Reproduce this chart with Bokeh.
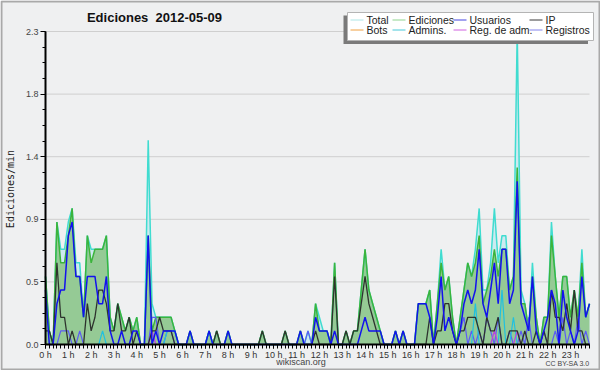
from bokeh.plotting import figure
from bokeh.models import Range1d, FixedTicker, CustomJSTickFormatter
from bokeh.core.properties import value
from bokeh.embed import file_html
from bokeh.resources import INLINE

# ---- data: edits per minute, one value per 10-minute bin (00:00 .. 23:50) ----
total = [
    0.5, 0.1, 0.0, 0.9, 0.7, 0.7,   0.9, 1.0, 0.6, 0.6, 0.2, 0.8,
    0.7, 0.7, 0.7, 0.7, 0.8, 0.2,   0.1, 0.3, 0.2, 0.1, 0.2, 0.1,
    0.2, 0.0, 0.0, 1.5, 0.3, 0.2,   0.2, 0.2, 0.2, 0.2, 0.1, 0.0,
    0.0, 0.0, 0.1, 0.0, 0.0, 0.0,   0.0, 0.1, 0.0, 0.1, 0.0, 0.0,
    0.1, 0.0, 0.0, 0.0, 0.0, 0.0,   0.0, 0.0, 0.0, 0.1, 0.0, 0.0,
    0.0, 0.0, 0.0, 0.1, 0.0, 0.0,   0.0, 0.1, 0.0, 0.1, 0.0, 0.3,
    0.2, 0.1, 0.1, 0.0, 0.6, 0.0,   0.0, 0.1, 0.0, 0.1, 0.1, 0.4,
    0.7, 0.4, 0.3, 0.2, 0.1, 0.0,   0.0, 0.0, 0.1, 0.0, 0.1, 0.0,
    0.0, 0.0, 0.3, 0.3, 0.3, 0.4,   0.0, 0.3, 0.7, 0.4, 0.5, 0.2,
    0.0, 0.2, 0.4, 0.6, 0.5, 0.7,   1.0, 0.4, 0.4, 0.6, 1.0, 0.6,
    0.8, 0.8, 0.4, 0.5, 2.3, 0.4,   0.3, 0.1, 0.6, 0.2, 0.0, 0.2,
    0.2, 0.9, 0.5, 0.2, 0.5, 0.5,   0.2, 0.4, 0.2, 0.7, 0.2, 0.3,
]
ediciones = [
    0.5, 0.1, 0.0, 0.9, 0.6, 0.6,   0.8, 1.0, 0.5, 0.5, 0.2, 0.8,
    0.6, 0.7, 0.7, 0.7, 0.8, 0.2,   0.1, 0.3, 0.2, 0.1, 0.2, 0.1,
    0.2, 0.0, 0.0, 0.8, 0.1, 0.2,   0.2, 0.2, 0.2, 0.2, 0.1, 0.0,
    0.0, 0.0, 0.1, 0.0, 0.0, 0.0,   0.0, 0.1, 0.0, 0.1, 0.0, 0.0,
    0.1, 0.0, 0.0, 0.0, 0.0, 0.0,   0.0, 0.0, 0.0, 0.1, 0.0, 0.0,
    0.0, 0.0, 0.0, 0.1, 0.0, 0.0,   0.0, 0.1, 0.0, 0.0, 0.0, 0.3,
    0.1, 0.1, 0.1, 0.0, 0.6, 0.0,   0.0, 0.1, 0.0, 0.1, 0.1, 0.4,
    0.7, 0.4, 0.3, 0.2, 0.1, 0.0,   0.0, 0.0, 0.1, 0.0, 0.1, 0.0,
    0.0, 0.0, 0.3, 0.3, 0.3, 0.4,   0.0, 0.3, 0.6, 0.4, 0.5, 0.2,
    0.0, 0.2, 0.4, 0.6, 0.5, 0.6,   0.8, 0.3, 0.4, 0.5, 0.7, 0.5,
    0.7, 0.7, 0.4, 0.5, 1.3, 0.3,   0.3, 0.1, 0.5, 0.2, 0.0, 0.2,
    0.2, 0.8, 0.5, 0.2, 0.5, 0.5,   0.2, 0.4, 0.2, 0.6, 0.2, 0.3,
]
usuarios = [
    0.4, 0.0, 0.0, 0.3, 0.4, 0.4,   0.8, 0.9, 0.5, 0.5, 0.2, 0.5,
    0.5, 0.5, 0.3, 0.3, 0.5, 0.1,   0.0, 0.0, 0.1, 0.0, 0.0, 0.1,
    0.1, 0.0, 0.0, 0.8, 0.0, 0.1,   0.0, 0.1, 0.1, 0.1, 0.1, 0.0,
    0.0, 0.0, 0.1, 0.0, 0.0, 0.0,   0.0, 0.1, 0.0, 0.0, 0.0, 0.0,
    0.1, 0.0, 0.0, 0.0, 0.0, 0.0,   0.0, 0.0, 0.0, 0.0, 0.0, 0.0,
    0.0, 0.0, 0.0, 0.0, 0.0, 0.0,   0.0, 0.1, 0.0, 0.0, 0.0, 0.2,
    0.1, 0.1, 0.1, 0.0, 0.1, 0.0,   0.0, 0.0, 0.0, 0.0, 0.0, 0.1,
    0.2, 0.1, 0.1, 0.1, 0.1, 0.0,   0.0, 0.0, 0.1, 0.0, 0.1, 0.0,
    0.0, 0.0, 0.3, 0.3, 0.3, 0.2,   0.0, 0.2, 0.5, 0.1, 0.2, 0.1,
    0.0, 0.1, 0.3, 0.4, 0.3, 0.4,   0.7, 0.3, 0.2, 0.4, 0.6, 0.3,
    0.7, 0.7, 0.3, 0.4, 1.2, 0.3,   0.2, 0.1, 0.5, 0.1, 0.0, 0.1,
    0.2, 0.4, 0.3, 0.0, 0.4, 0.2,   0.1, 0.0, 0.1, 0.5, 0.2, 0.3,
]
ip = [
    0.1, 0.1, 0.0, 0.6, 0.2, 0.2,   0.0, 0.1, 0.0, 0.0, 0.0, 0.3,
    0.1, 0.2, 0.4, 0.4, 0.3, 0.1,   0.1, 0.3, 0.1, 0.1, 0.2, 0.0,
    0.1, 0.0, 0.0, 0.0, 0.1, 0.1,   0.2, 0.1, 0.1, 0.1, 0.0, 0.0,
    0.0, 0.0, 0.0, 0.0, 0.0, 0.0,   0.0, 0.0, 0.0, 0.1, 0.0, 0.0,
    0.0, 0.0, 0.0, 0.0, 0.0, 0.0,   0.0, 0.0, 0.0, 0.1, 0.0, 0.0,
    0.0, 0.0, 0.0, 0.1, 0.0, 0.0,   0.0, 0.0, 0.0, 0.0, 0.0, 0.1,
    0.0, 0.0, 0.0, 0.0, 0.5, 0.0,   0.0, 0.1, 0.0, 0.1, 0.1, 0.3,
    0.5, 0.3, 0.2, 0.1, 0.0, 0.0,   0.0, 0.0, 0.0, 0.0, 0.0, 0.0,
    0.0, 0.0, 0.0, 0.0, 0.0, 0.2,   0.0, 0.1, 0.1, 0.3, 0.3, 0.1,
    0.0, 0.1, 0.1, 0.2, 0.2, 0.2,   0.1, 0.0, 0.2, 0.1, 0.1, 0.2,
    0.0, 0.0, 0.1, 0.1, 0.1, 0.0,   0.1, 0.0, 0.0, 0.1, 0.0, 0.1,
    0.0, 0.4, 0.2, 0.2, 0.1, 0.3,   0.1, 0.4, 0.1, 0.1, 0.0, 0.0,
]
bots = [0.0] * 144
admins = [
    0.0, 0.0, 0.0, 0.0, 0.0, 0.0,   0.0, 0.0, 0.0, 0.0, 0.0, 0.0,
    0.0, 0.0, 0.0, 0.1, 0.0, 0.0,   0.0, 0.0, 0.0, 0.0, 0.0, 0.0,
    0.0, 0.0, 0.0, 0.0, 0.0, 0.0,   0.0, 0.0, 0.1, 0.1, 0.1, 0.0,
    0.0, 0.0, 0.0, 0.0, 0.0, 0.0,   0.0, 0.1, 0.0, 0.0, 0.0, 0.0,
    0.0, 0.0, 0.0, 0.0, 0.0, 0.0,   0.0, 0.0, 0.0, 0.0, 0.0, 0.0,
    0.0, 0.0, 0.0, 0.0, 0.0, 0.0,   0.0, 0.0, 0.0, 0.0, 0.0, 0.0,
    0.0, 0.0, 0.0, 0.0, 0.0, 0.0,   0.0, 0.0, 0.0, 0.0, 0.0, 0.0,
    0.0, 0.0, 0.0, 0.0, 0.0, 0.0,   0.0, 0.0, 0.0, 0.0, 0.0, 0.0,
    0.0, 0.0, 0.0, 0.0, 0.0, 0.0,   0.0, 0.0, 0.0, 0.0, 0.0, 0.0,
    0.0, 0.0, 0.0, 0.0, 0.0, 0.3,   0.0, 0.0, 0.0, 0.0, 0.0, 0.0,
    0.4, 0.0, 0.0, 0.2, 0.0, 0.0,   0.0, 0.0, 0.0, 0.0, 0.0, 0.0,
    0.0, 0.0, 0.0, 0.0, 0.0, 0.0,   0.0, 0.0, 0.0, 0.0, 0.0, 0.0,
]
reg_adm = [
    0.0, 0.0, 0.0, 0.0, 0.0, 0.0,   0.0, 0.0, 0.0, 0.0, 0.0, 0.0,
    0.0, 0.0, 0.0, 0.0, 0.0, 0.0,   0.0, 0.0, 0.0, 0.0, 0.0, 0.0,
    0.0, 0.0, 0.0, 0.0, 0.1, 0.0,   0.0, 0.0, 0.0, 0.0, 0.0, 0.0,
    0.0, 0.0, 0.0, 0.0, 0.0, 0.0,   0.0, 0.0, 0.0, 0.0, 0.0, 0.0,
    0.0, 0.0, 0.0, 0.0, 0.0, 0.0,   0.0, 0.0, 0.0, 0.0, 0.0, 0.0,
    0.0, 0.0, 0.0, 0.0, 0.0, 0.0,   0.0, 0.0, 0.0, 0.0, 0.0, 0.0,
    0.0, 0.0, 0.0, 0.0, 0.0, 0.0,   0.0, 0.0, 0.0, 0.0, 0.0, 0.0,
    0.0, 0.0, 0.0, 0.0, 0.0, 0.0,   0.0, 0.0, 0.0, 0.0, 0.0, 0.0,
    0.0, 0.0, 0.0, 0.0, 0.0, 0.0,   0.0, 0.0, 0.0, 0.0, 0.0, 0.0,
    0.0, 0.0, 0.0, 0.0, 0.0, 0.0,   0.0, 0.0, 0.0, 0.0, 0.1, 0.0,
    0.0, 0.0, 0.0, 0.0, 0.1, 0.0,   0.0, 0.0, 0.0, 0.0, 0.0, 0.0,
    0.0, 0.0, 0.0, 0.0, 0.0, 0.0,   0.0, 0.0, 0.0, 0.0, 0.0, 0.0,
]
registros = [
    0.0, 0.0, 0.0, 0.0, 0.1, 0.1,   0.1, 0.0, 0.0, 0.1, 0.0, 0.0,
    0.0, 0.0, 0.0, 0.0, 0.0, 0.0,   0.0, 0.0, 0.0, 0.0, 0.0, 0.0,
    0.0, 0.0, 0.0, 0.0, 0.2, 0.2,   0.0, 0.0, 0.1, 0.1, 0.0, 0.0,
    0.0, 0.0, 0.0, 0.0, 0.0, 0.0,   0.0, 0.0, 0.0, 0.0, 0.0, 0.0,
    0.0, 0.0, 0.0, 0.0, 0.0, 0.0,   0.0, 0.0, 0.0, 0.0, 0.0, 0.0,
    0.0, 0.0, 0.0, 0.0, 0.0, 0.0,   0.0, 0.0, 0.0, 0.1, 0.0, 0.0,
    0.0, 0.0, 0.0, 0.0, 0.0, 0.0,   0.0, 0.0, 0.0, 0.0, 0.0, 0.0,
    0.0, 0.0, 0.0, 0.0, 0.0, 0.0,   0.0, 0.0, 0.0, 0.0, 0.0, 0.0,
    0.0, 0.0, 0.0, 0.0, 0.0, 0.0,   0.0, 0.0, 0.0, 0.0, 0.0, 0.0,
    0.0, 0.1, 0.2, 0.0, 0.1, 0.0,   0.1, 0.0, 0.2, 0.1, 0.0, 0.2,
    0.0, 0.0, 0.1, 0.0, 0.0, 0.1,   0.0, 0.2, 0.0, 0.0, 0.0, 0.1,
    0.0, 0.0, 0.1, 0.0, 0.2, 0.0,   0.1, 0.0, 0.2, 0.0, 0.1, 0.0,
]

hour_ticks = list(range(24))
hour_labels = ["0 h", "1 h", "2 h", "3 h", "4 h", "5 h", "6 h", "7 h", "8 h", "9 h",
               "10 h", "11 h", "12 h", "13 h", "14 h", "15 h", "16 h", "17 h", "18 h",
               "19 h", "20 h", "21 h", "22 h", "23 h"]
y_ticks = [0.0, 0.46, 0.92, 1.38, 1.84, 2.3]
y_labels = ["0.0", "0.5", "0.9", "1.4", "1.8", "2.3"]
y_max = 2.3

legend_names = ["Total", "Ediciones", "Usuarios", "IP",
                "Bots", "Admins.", "Reg. de adm.", "Registros"]
legend_colors = ["#aee6e6", "#8fd48f", "#4444e0", "#3a3a3a",
                 "#f0a040", "#48c8d8", "#d060e0", "#8484ec"]

# ---- layout (pixels of the 600x370 picture) ----
n = len(total)
x_hours = [i / 6 for i in range(n)]          # bin start, in hours
x_last = x_hours[-1]
W, H = 600, 370
AX_L, AX_R, AX_T, AX_B = 45, 589, 31, 344     # axis extents in pixels
XS = (AX_R - AX_L) / x_last                   # px per hour
YS = (AX_B - AX_T) / y_max                    # px per unit


def sx(px):
    return (px - AX_L) / XS


def sy(py):
    return (AX_B - py) / YS


# the frame covers the whole canvas; axes are drawn at fixed locations
p = figure(width=W, height=H, output_backend="svg", toolbar_location=None,
           x_range=Range1d(sx(0), sx(W)), y_range=Range1d(sy(H), sy(0)),
           min_border=0, min_border_left=0, min_border_right=0,
           min_border_top=0, min_border_bottom=0,
           background_fill_color="#eff0f1", border_fill_color="#eff0f1",
           outline_line_color=None)
p.grid.visible = False

# outer frame of the picture
p.quad(left=[sx(1)], right=[sx(W - 1)], top=[sy(1)], bottom=[sy(H - 1)],
       fill_color=None, line_color="#a9a9a9", line_width=2)

# horizontal grid lines
p.segment(x0=[0] * len(y_ticks), x1=[x_last] * len(y_ticks), y0=y_ticks, y1=y_ticks,
          line_color="#cfcfcf", line_width=1)

# areas and lines
p.varea(x=x_hours, y1=0, y2=total, fill_color="#cdeaf0")
p.varea(x=x_hours, y1=0, y2=ediciones, fill_color="#95ca95")
p.line(x_hours, total, line_color="#40dcd0", line_width=1.5)
p.line(x_hours, ediciones, line_color="#3cb43c", line_width=1.5)
p.line(x_hours, bots, line_color="#f0a030", line_width=1.2)
p.line(x_hours, registros, line_color="#5c5cf4", line_width=1.2)
p.line(x_hours, admins, line_color="#20c0e0", line_width=1.2)
p.line(x_hours, reg_adm, line_color="#c040e0", line_width=1.2)
p.line(x_hours, ip, line_color="#2e332e", line_width=1.3)
p.line(x_hours, usuarios, line_color="#1212ee", line_width=1.5)

# axes
xa = p.xaxis[0]
xa.fixed_location = 0
xa.ticker = FixedTicker(ticks=hour_ticks, minor_ticks=x_hours)
xa.formatter = CustomJSTickFormatter(args=dict(labels=hour_labels),
                                     code="return labels[Math.round(tick)]")
xa.bounds = (0, x_last)
xa.axis_line_width = 2
xa.axis_line_color = "#000000"
xa.major_tick_out = 4
xa.major_tick_in = 0
xa.minor_tick_out = 4
xa.minor_tick_in = 0
xa.major_tick_line_color = "#000000"
xa.minor_tick_line_color = "#000000"
xa.major_label_standoff = 1
xa.major_label_text_font = "Liberation Sans"
xa.major_label_text_font_size = "9px"
xa.major_label_text_color = "#333333"

ya = p.yaxis[0]
ya.fixed_location = 0
y_minor = [k * 0.115 for k in range(21)]
ya.ticker = FixedTicker(ticks=y_ticks, minor_ticks=y_minor)
ya.formatter = CustomJSTickFormatter(args=dict(labels=y_labels, tvals=y_ticks),
                                     code="const k = tvals.indexOf(tick); return k >= 0 ? labels[k] : tick.toFixed(1)")
ya.bounds = (0, y_max)
ya.axis_line_width = 2
ya.axis_line_color = "#000000"
ya.major_tick_out = 5
ya.major_tick_in = 0
ya.minor_tick_out = 3
ya.minor_tick_in = 0
ya.major_label_standoff = 2
ya.major_label_text_font = "Liberation Sans"
ya.major_label_text_font_size = "9px"
ya.major_label_text_color = "#444444"

# title, axis title, footer
p.text(x=[sx(154)], y=[sy(16.5)], text=["Ediciones\u00a0 2012-05-09"],
       text_font=value("Liberation Sans"), text_font_style="bold",
       text_font_size=value("13px"), text_align="center", text_baseline="middle",
       text_color="#111111")
p.text(x=[sx(10)], y=[sy(188.5)], text=["Ediciones/min"], angle=1.5708,
       text_font=value("DejaVu Sans Mono"), text_font_size=value("10px"),
       text_align="center", text_baseline="middle", text_color="#222222")
p.text(x=[sx(300.5)], y=[sy(361.5)], text=["wikiscan.org"],
       text_font=value("Liberation Sans"), text_font_size=value("9px"),
       text_align="center", text_baseline="middle", text_color="#444444")
p.text(x=[sx(589)], y=[sy(362.5)], text=["CC BY-SA 3.0"],
       text_font=value("Liberation Sans"), text_font_size=value("7px"),
       text_align="right", text_baseline="middle", text_color="#444444")

# legend box with shadow
p.quad(left=[sx(343)], right=[sx(587.5)], top=[sy(15)], bottom=[sy(43.5)],
       fill_color="#7a7a7a", line_color=None)
p.quad(left=[sx(347)], right=[sx(593)], top=[sy(12)], bottom=[sy(40)],
       fill_color="#ffffff", line_color="#b4b4b4", line_width=1)
col_line_x = [350, 392, 453, 529]
col_text_x = [366, 408, 469, 545]
row_y = [19.5, 29.5]
lx0, lx1, ly, tx, ty = [], [], [], [], []
for k, name in enumerate(legend_names):
    r, c = divmod(k, 4)
    lx0.append(sx(col_line_x[c]))
    lx1.append(sx(col_line_x[c] + 13))
    ly.append(sy(row_y[r]))
    tx.append(sx(col_text_x[c]))
    ty.append(sy(row_y[r]))
p.segment(x0=lx0, x1=lx1, y0=ly, y1=ly, line_color=legend_colors, line_width=1)
p.text(x=tx, y=ty, text=legend_names, text_font=value("Liberation Sans"),
       text_font_size=value("10.5px"), text_baseline="middle", text_align="left",
       text_color="#222222")

open("out.html", "w").write(file_html(p, INLINE))
